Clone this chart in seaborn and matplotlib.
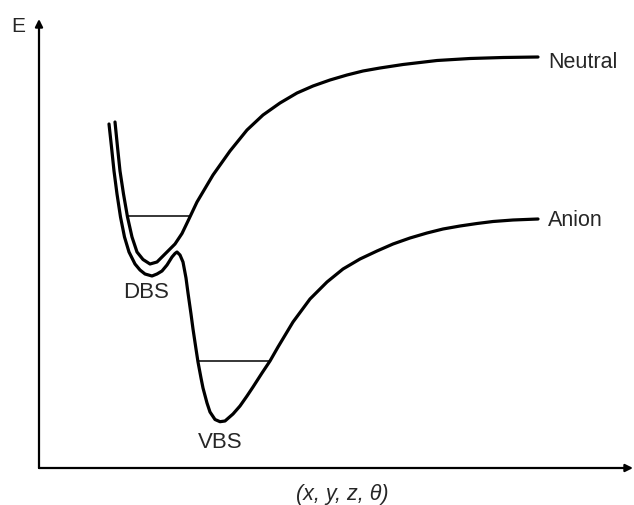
import matplotlib as mpl
import matplotlib.pyplot as plt
import seaborn as sns
import numpy as np
import pandas as pd

mpl.use('agg')

'''Potential energy curves: neutral vs anion (DBS / VBS)'''

# Neutral curve (coordinate, energy)
neutral_r = [76, 78.5, 81, 84.5, 88.5, 93, 98, 104, 111, 118, 123, 129, 136, 143,
             149, 158, 174, 191, 208, 224, 241, 258, 274, 291, 308, 324, 341,
             364, 398, 431, 464, 499]
neutral_E = [346, 321, 297, 274, 251, 231, 216, 208.5, 204, 206, 211, 217, 224,
             234.5, 247, 266, 293, 317, 338, 353, 365, 375, 382, 388, 393, 397,
             400, 403.5, 407.5, 409.5, 410.5, 411]

# Anion curve
anion_r = [70, 72.5, 75, 78, 81.5, 85.5, 90, 96, 101, 106, 113, 118, 123, 128, 133,
           136, 138, 141, 144, 147, 149, 152, 154, 157, 159, 162, 164, 168, 171,
           176, 181, 186, 194, 201, 208, 214, 223, 231, 239, 254, 271, 288, 304,
           321, 338, 354, 371, 388, 404, 421, 438, 454, 474, 499]
anion_E = [344, 321, 297, 274, 251, 231, 216, 204, 198, 194, 192, 194, 197, 203,
           211, 214.5, 216, 213, 206, 190, 175, 154, 139, 119, 106, 90, 80, 65,
           56, 48.5, 46.3, 47, 54, 62, 72, 81, 95, 107, 121, 146, 169, 186, 199,
           209, 217, 224, 230, 235, 239, 242, 244.5, 246.5, 248, 249]

# Vibrational levels (energy, left, right)
level_E = [252, 107]
level_left = [89, 159]
level_right = [151, 231]

# Text labels
curve_names = ['Neutral', 'Anion']
curve_label_r = [509, 509]
curve_label_E = [407, 248]
well_names = ['DBS', 'VBS']
well_label_r = [107, 181]
well_label_E = [176, 26]

sns.set_style('white')
plt.rcParams['font.family'] = ['Liberation Sans', 'DejaVu Sans']

curves_df = pd.concat([
    pd.DataFrame({'r': neutral_r, 'E': neutral_E, 'state': 'Neutral'}),
    pd.DataFrame({'r': anion_r, 'E': anion_E, 'state': 'Anion'}),
])

fig = plt.figure(figsize=(6.34, 5.06), dpi=100)
ax = fig.add_axes([39 / 634, 37 / 506, 594 / 634, 449 / 506])

sns.lineplot(data=curves_df, x='r', y='E', hue='state', units='state',
             estimator=None, sort=False, palette=['black', 'black'],
             linewidth=2.3, legend=False, ax=ax)

ax.hlines(level_E, level_left, level_right, color='black', linewidth=1.1)

for name, r, E in zip(curve_names, curve_label_r, curve_label_E):
    ax.text(r, E, name, fontsize=15.5, ha='left', va='center')
for name, r, E in zip(well_names, well_label_r, well_label_E):
    ax.text(r, E, name, fontsize=16, ha='center', va='center')

ax.text(-21, 443, 'E', fontsize=15, ha='center', va='center', clip_on=False)
ax.text(303, -26, r'(x, y, z, θ)', fontsize=15.5, style='italic',
        ha='center', va='center', clip_on=False)

ax.set_xlim(0, 594)
ax.set_ylim(0, 449)
ax.set_xticks([])
ax.set_yticks([])
ax.set_xlabel('')
ax.set_ylabel('')
for side in ax.spines:
    ax.spines[side].set_visible(False)

# Axes with arrow heads
arrow = dict(arrowstyle='-|>', lw=1.6, color='black', mutation_scale=11,
             shrinkA=0, shrinkB=0)
ax.annotate('', xy=(1, 0), xytext=(0, 0), xycoords='axes fraction', arrowprops=arrow)
ax.annotate('', xy=(0, 1), xytext=(0, 0), xycoords='axes fraction', arrowprops=arrow)

fig.savefig('out.png', dpi=100)
